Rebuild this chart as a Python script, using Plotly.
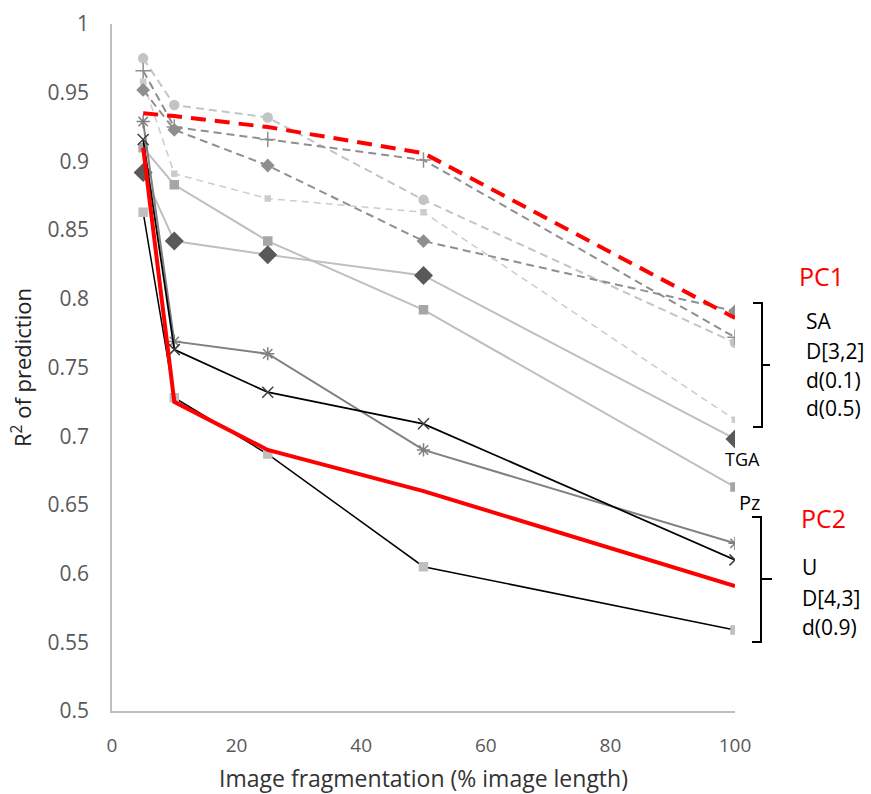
import plotly.graph_objects as go

x_vals = [5, 10, 25, 50, 100]

# PC1 group (dashed)
sa = [0.975, 0.941, 0.932, 0.872, 0.768]
d32 = [0.966, 0.925, 0.916, 0.901, 0.772]
d01 = [0.952, 0.923, 0.897, 0.842, 0.791]
d05 = [0.958, 0.891, 0.873, 0.863, 0.712]
pc1 = [0.935, 0.933, 0.925, 0.906, 0.786]

# other / PC2 group (solid)
tga = [0.892, 0.842, 0.832, 0.817, 0.698]
pz = [0.910, 0.883, 0.842, 0.792, 0.663]
u = [0.929, 0.769, 0.760, 0.690, 0.622]
d43 = [0.916, 0.763, 0.732, 0.709, 0.610]
d09 = [0.863, 0.728, 0.687, 0.605, 0.559]
pc2 = [0.910, 0.725, 0.690, 0.660, 0.591]

y_ticks = [0.5, 0.55, 0.6, 0.65, 0.7, 0.75, 0.8, 0.85, 0.9, 0.95, 1]
y_tick_text = ["0.5", "0.55", "0.6", "0.65", "0.7", "0.75", "0.8", "0.85", "0.9", "0.95", "1"]
x_ticks = [0, 20, 40, 60, 80, 100]

FONT = "Open Sans"

fig = go.Figure()

def add(y, line_color, width, dash, marker_symbol=None, marker_color=None, marker_size=8, name=""):
    mode = "lines+markers" if marker_symbol else "lines"
    marker = dict(symbol=marker_symbol, color=marker_color, size=marker_size,
                  line=dict(color=marker_color, width=1.5)) if marker_symbol else None
    fig.add_trace(go.Scatter(x=x_vals, y=y, mode=mode, name=name,
                             line=dict(color=line_color, width=width, dash=dash),
                             marker=marker, showlegend=False))

# dashed series
add(d05, "#cccccc", 1.5, "7px,5px", "square", "#cccccc", 5, "d(0.5)")
add(sa, "#c4c4c4", 2, "8px,5px", "circle", "#c4c4c4", 9, "SA")
add(d01, "#8f8f8f", 2, "8px,5px", "diamond", "#8f8f8f", 9, "d(0.1)")
add(d32, "#8f8f8f", 2, "8px,5px", "cross-thin-open", "#8f8f8f", 11, "D[3,2]")

# solid series
add(pz, "#bfbfbf", 2, "solid", "square", "#a6a6a6", 8, "Pz")
add(tga, "#bfbfbf", 2, "solid", "diamond", "#595959", 13, "TGA")
add(u, "#808080", 2, "solid", "asterisk-open", "#808080", 11, "U")
add(d43, "#000000", 1.75, "solid", "x-thin-open", "#404040", 11, "D[4,3]")
add(d09, "#000000", 1.5, "solid", "square", "#bfbfbf", 8, "d(0.9)")

# PC lines
add(pc1, "#ff0000", 4, "15px,9px", None, None, 0, "PC1")
add(pc2, "#ff0000", 4, "solid", None, None, 0, "PC2")

W, H = 623.0, 687.0
L, B = 112.0, 711.0

def px(xp):
    return (xp - L) / W

def py(yp):
    return (B - yp) / H

annotations = []

def label(text, xp, yp, size=21, color="#000000", xanchor="center"):
    annotations.append(dict(text=text, x=px(xp), y=py(yp), xref="paper", yref="paper",
                            showarrow=False, xanchor=xanchor, yanchor="middle",
                            font=dict(family=FONT, size=size, color=color)))

label("PC1", 821, 276, size=25, color="#ff0000")
label("SA", 804, 321, xanchor="left")
label("D[3,2]", 804, 351, xanchor="left")
label("d(0.1)", 804, 380, xanchor="left")
label("d(0.5)", 804, 408, xanchor="left")
label("TGA", 742, 459, size=18)
label("Pz", 749, 502, size=20)
label("PC2", 823, 518, size=25, color="#ff0000")
label("U", 800, 567, xanchor="left")
label("D[4,3]", 800, 598, xanchor="left")
label("d(0.9)", 800, 627, xanchor="left")

def bracket(xl, xv, xt, yt, ym, yb):
    return dict(type="path", xref="paper", yref="paper",
                path=(f"M {px(xl)},{py(yt)} L {px(xv)},{py(yt)} L {px(xv)},{py(yb)} "
                      f"L {px(xl)},{py(yb)} M {px(xv)},{py(ym)} L {px(xt)},{py(ym)}"),
                line=dict(color="#000000", width=2))

shapes = [bracket(753, 762, 770, 303, 365, 427),
          bracket(752, 761, 772, 517, 579, 642)]

fig.update_layout(
    width=871, height=794,
    margin=dict(l=112, r=136, t=24, b=83, autoexpand=False),
    paper_bgcolor="white", plot_bgcolor="white",
    font=dict(family=FONT, color="#595959"),
    annotations=annotations, shapes=shapes, showlegend=False,
    xaxis=dict(range=[0, 100], tickvals=x_ticks, showgrid=False, zeroline=False,
               showline=True, linecolor="#bfbfbf", linewidth=1.5, ticks="",
               ticklabelstandoff=16, tickfont=dict(size=19, color="#595959"),
               title=dict(text="Image fragmentation (% image length)", standoff=14,
                          font=dict(size=23, color="#333333"))),
    yaxis=dict(range=[0.5, 1], tickvals=y_ticks, ticktext=y_tick_text, showgrid=False,
               zeroline=False, showline=True, linecolor="#bfbfbf", linewidth=1.5, ticks="",
               ticklabelstandoff=17, tickfont=dict(size=21, color="#595959"),
               title=dict(text="R<sup>2</sup> of prediction", standoff=10,
                          font=dict(size=22, color="#222222"))),
)

fig.write_html("out.html")
